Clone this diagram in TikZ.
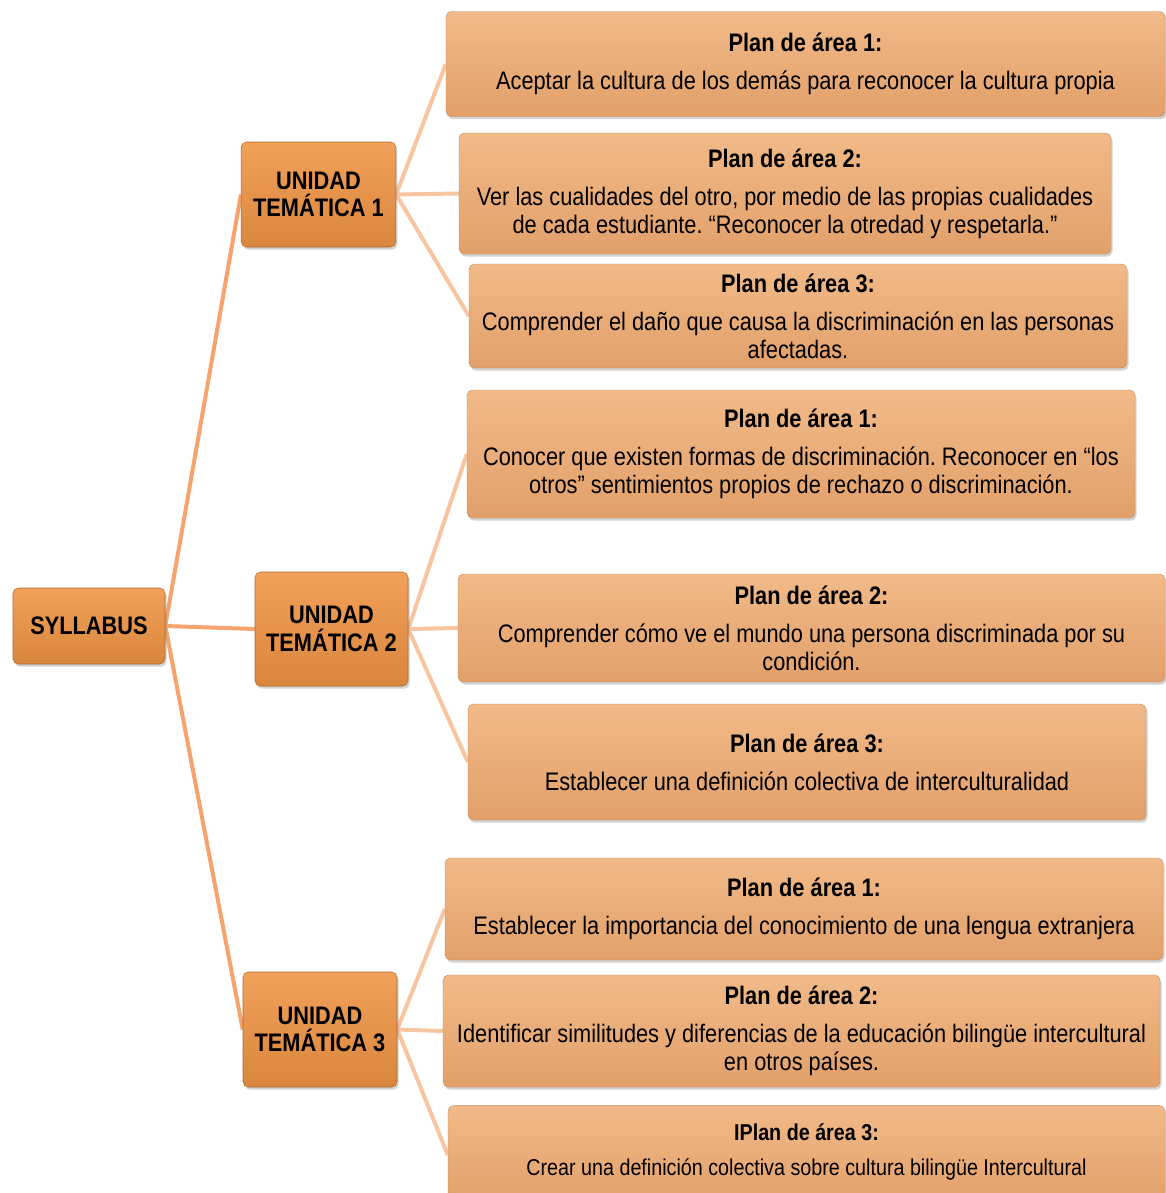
\documentclass[tikz,border=0pt]{standalone}
\usepackage{fontspec}
\setmainfont{Liberation Sans}[FakeStretch=0.86]
\frenchspacing
\usetikzlibrary{shadows,backgrounds}

\definecolor{naranja}{HTML}{F2A15A}
\definecolor{naranjaosc}{HTML}{D9863E}
\definecolor{crema}{HTML}{F1BA88}
\definecolor{cremaosc}{HTML}{E2A06A}
\definecolor{lineaA}{HTML}{F4A46C}
\definecolor{lineaB}{HTML}{F8C5A2}

\tikzset{
  caja/.style={rounded corners=4pt, align=center, inner sep=3pt,
    drop shadow={opacity=0.35, shadow xshift=1.2pt, shadow yshift=-2pt},
    font=\fontsize{19}{21}\selectfont},
  unidad/.style={caja, top color=naranja, bottom color=naranjaosc,
    draw=naranjaosc!80!black, line width=0.4pt, font=\fontsize{19}{20.5}\selectfont\bfseries},
  plan/.style={caja, top color=crema, bottom color=cremaosc,
    draw=cremaosc!85!black, line width=0.3pt},
  rama/.style={lineaA, line width=3pt},
  hoja/.style={lineaB, line width=3pt}
}

\begin{document}
\begin{tikzpicture}[x=0.75pt,y=-0.75pt]
  \useasboundingbox (0,0) rectangle (1166,1193);

  \node[unidad, minimum width=114pt, minimum height=57pt] (syllabus) at (89,626) {SYLLABUS};

  \node[unidad, minimum width=116pt, minimum height=78.75pt] (ut1) at (318.5,194.5) {UNIDAD\\TEMÁTICA 1};
  \node[unidad, minimum width=114.75pt, minimum height=85.5pt] (ut2) at (331.5,629) {UNIDAD\\TEMÁTICA 2};
  \node[unidad, minimum width=115.5pt, minimum height=86.25pt] (ut3) at (320,1029.5) {UNIDAD\\TEMÁTICA 3};

  % unidad 1
  \node[plan, minimum width=539.25pt, minimum height=78.75pt] (a1) at (805.5,64)
    {\textbf{Plan de área 1:}\\[7.5pt]Aceptar la cultura de los demás para reconocer la cultura propia};
  \node[plan, minimum width=489pt, minimum height=90.75pt] (a2) at (785,193.5)
    {\textbf{Plan de área 2:}\\[7.5pt]Ver las cualidades del otro, por medio de las propias cualidades\\de cada estudiante. “Reconocer la otredad y respetarla.”};
  \node[plan, minimum width=493.5pt, minimum height=78pt] (a3) at (798,316)
    {\textbf{Plan de área 3:}\\[7.5pt]Comprender el daño que causa la discriminación en las personas\\afectadas.};

  % unidad 2
  \node[plan, minimum width=501pt, minimum height=96pt] (b1) at (801,454)
    {\textbf{Plan de área 1:}\\[7.5pt]Conocer que existen formas de discriminación. Reconocer en “los\\otros” sentimientos propios de rechazo o discriminación.};
  \node[plan, minimum width=530.25pt, minimum height=81pt] (b2) at (811.5,628)
    {\textbf{Plan de área 2:}\\[7.5pt]Comprender cómo ve el mundo una persona discriminada por su\\condición.};
  \node[plan, minimum width=508.5pt, minimum height=87pt] (b3) at (807,762)
    {\textbf{Plan de área 3:}\\[7.5pt]Establecer una definición colectiva de interculturalidad};

  % unidad 3
  \node[plan, minimum width=538.5pt, minimum height=76.5pt] (c1) at (804,909)
    {\textbf{Plan de área 1:}\\[7.5pt]Establecer la importancia del conocimiento de una lengua extranjera};
  \node[plan, minimum width=537.75pt, minimum height=84pt] (c2) at (801.5,1031)
    {\textbf{Plan de área 2:}\\[7.5pt]Identificar similitudes y diferencias de la educación bilingüe intercultural\\en otros países.};
  \node[plan, minimum width=537.75pt, minimum height=74pt, font=\fontsize{17.2}{19}\selectfont] (c3) at (806.5,1155)
    {\textbf{IPlan de área 3:}\\[7pt]Crear una definición colectiva sobre cultura bilingüe Intercultural\\[-11pt]};

  \begin{scope}[on background layer]
    \foreach \u in {ut1,ut2,ut3}
      \draw[rama] (syllabus.east) -- (\u.west);
    \foreach \p in {a1,a2,a3}
      \draw[hoja] (ut1.east) -- (\p.west);
    \foreach \p in {b1,b2,b3}
      \draw[hoja] (ut2.east) -- (\p.west);
    \foreach \p in {c1,c2,c3}
      \draw[hoja] (ut3.east) -- (\p.west);
  \end{scope}
\end{tikzpicture}
\end{document}
